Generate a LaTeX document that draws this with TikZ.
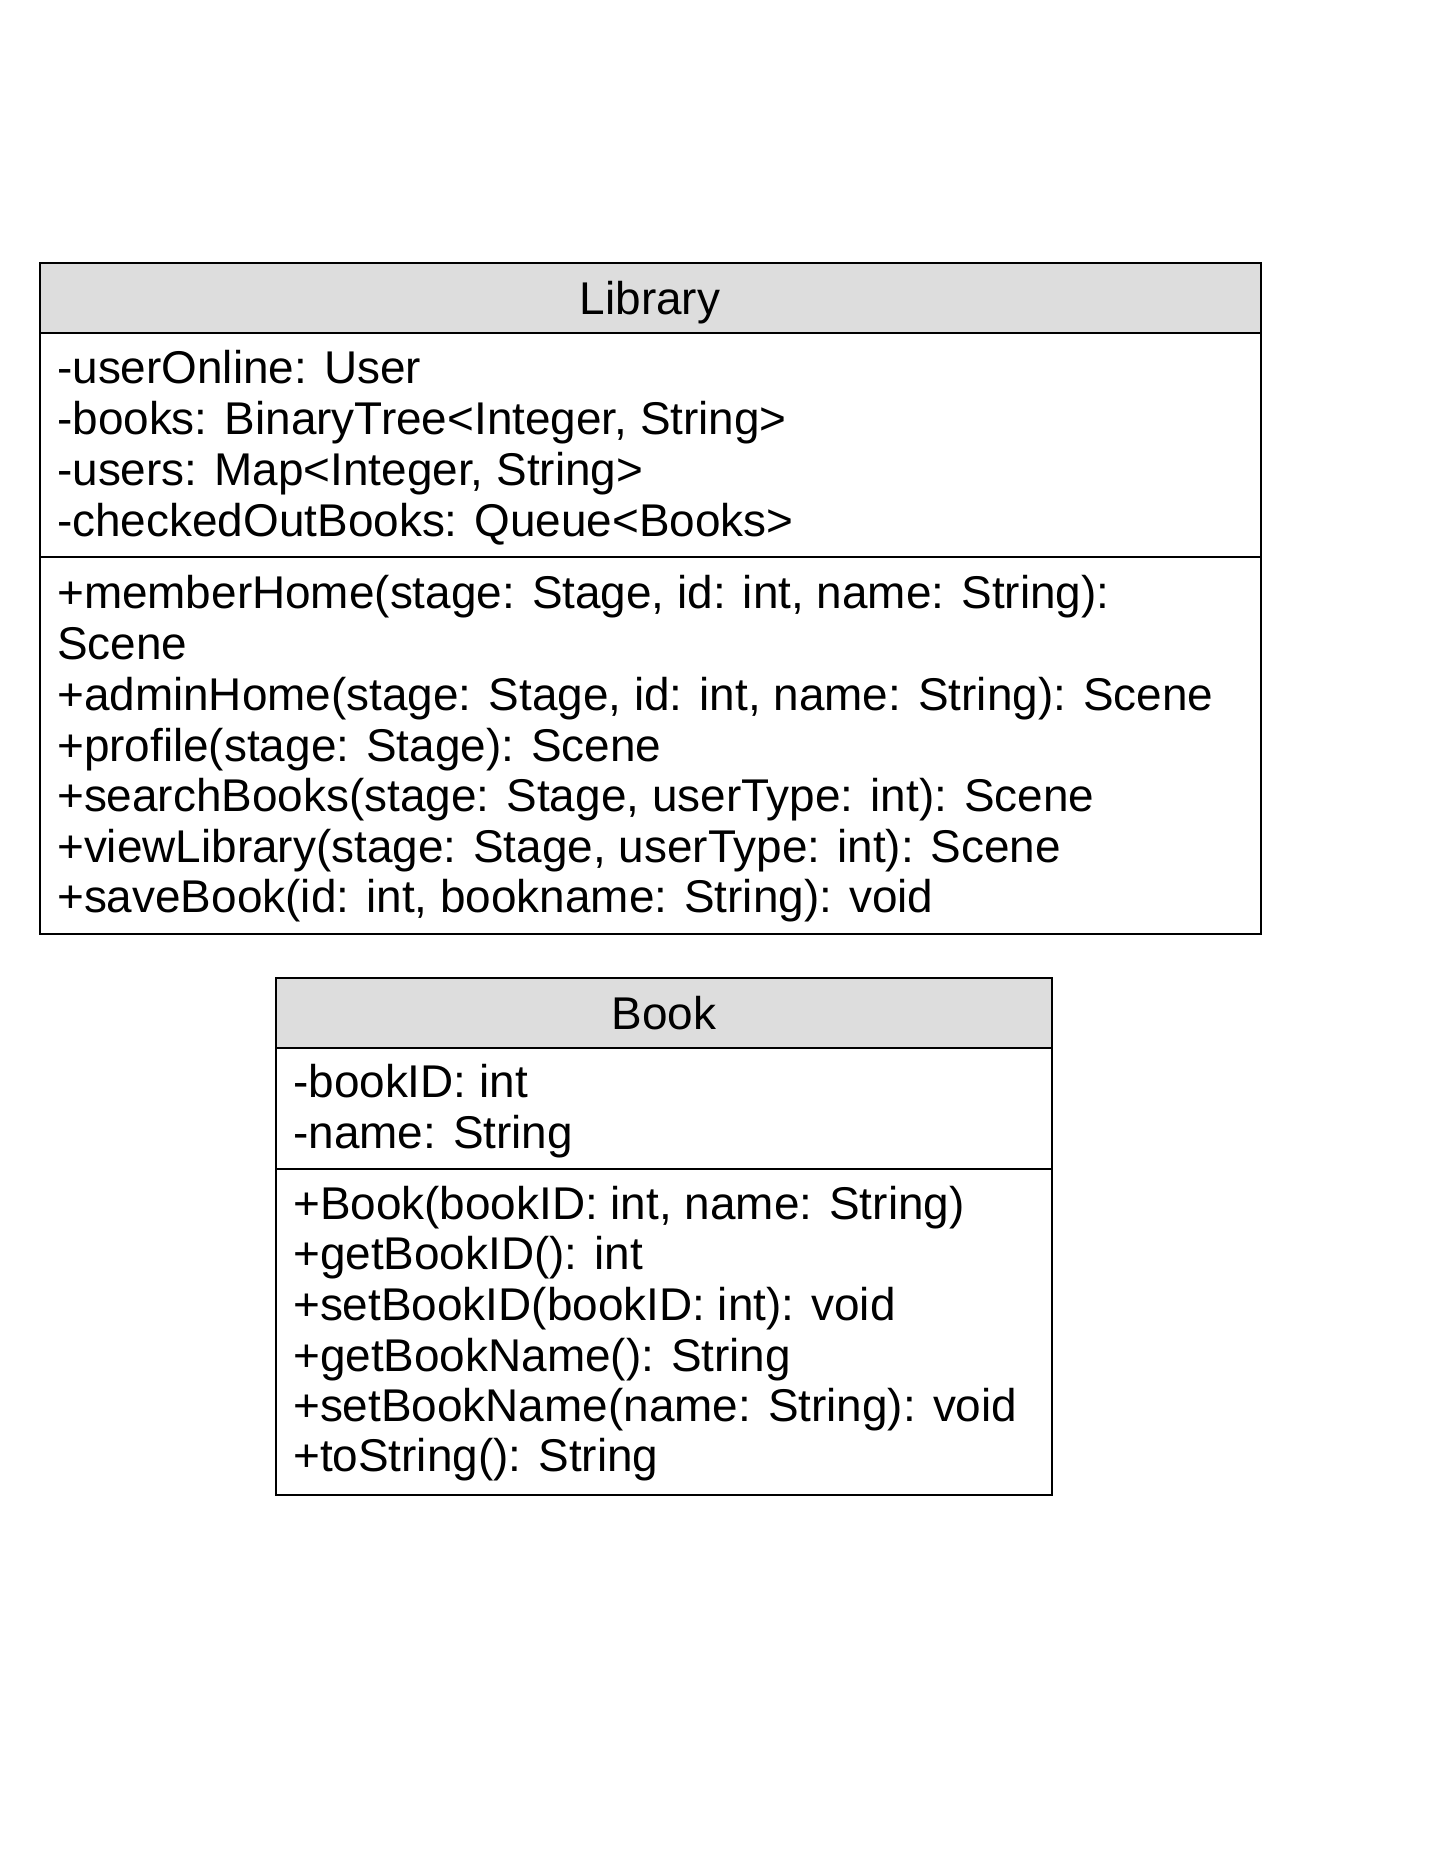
\documentclass[tikz,border=0pt]{standalone}
\usepackage{fontspec}
\setmainfont{Liberation Sans}
\definecolor{hdrgray}{HTML}{DDDDDD}
\begin{document}
\begin{tikzpicture}[x=1pt,y=-1pt,
  txt/.style={anchor=base west, inner sep=0pt, font=\fontsize{45.9}{51}\selectfont},
  ttl/.style={anchor=base, inner sep=0pt, font=\fontsize{45.9}{51}\selectfont},
  box/.style={draw=black, line width=1.3pt},
  hdr/.style={box, fill=hdrgray}]
\useasboundingbox[fill=white] (0,0) rectangle (1440,1864);
% Library
\draw[hdr] (40,263) rectangle (1261,333);
\draw[box] (40,333) rectangle (1261,557);
\draw[box] (40,557) rectangle (1261,934);
\node[ttl] (libT) at (650,314) {Library};
\node[txt] (la1) at (57,383) {-userOnline: User};
\node[txt] (la2) at (57,434) {-books: BinaryTree<Integer, String>};
\node[txt] (la3) at (57,485) {-users: Map<Integer, String>};
\node[txt] (la4) at (57,536) {-checkedOutBooks: Queue<Books>};
\node[txt] (lm1) at (57,608) {+memberHome(stage: Stage, id: int, name: String):};
\node[txt] (lm1b) at (57,659) {Scene};
\node[txt] (lm2) at (57,710) {+adminHome(stage: Stage, id: int, name: String): Scene};
\node[txt] (lm3) at (57,761) {+profile(stage: Stage): Scene};
\node[txt] (lm4) at (57,811) {+searchBooks(stage: Stage, userType: int): Scene};
\node[txt] (lm5) at (57,862) {+viewLibrary(stage: Stage, userType: int): Scene};
\node[txt] (lm6) at (57,912) {+saveBook(id: int, bookname: String): void};
% Book
\draw[hdr] (276,978) rectangle (1052,1048);
\draw[box] (276,1048) rectangle (1052,1169);
\draw[box] (276,1169) rectangle (1052,1495);
\node[ttl] (bookT) at (664,1029) {Book};
\node[txt] (ba1) at (293,1097) {-bookID: int};
\node[txt] (ba2) at (293,1148) {-name: String};
\node[txt] (bm1) at (293,1219) {+Book(bookID: int, name: String)};
\node[txt] (bm2) at (293,1269) {+getBookID(): int};
\node[txt] (bm3) at (293,1320) {+setBookID(bookID: int): void};
\node[txt] (bm4) at (293,1371) {+getBookName(): String};
\node[txt] (bm5) at (293,1421) {+setBookName(name: String): void};
\node[txt] (bm6) at (293,1471) {+toString(): String};
\end{tikzpicture}
\end{document}
